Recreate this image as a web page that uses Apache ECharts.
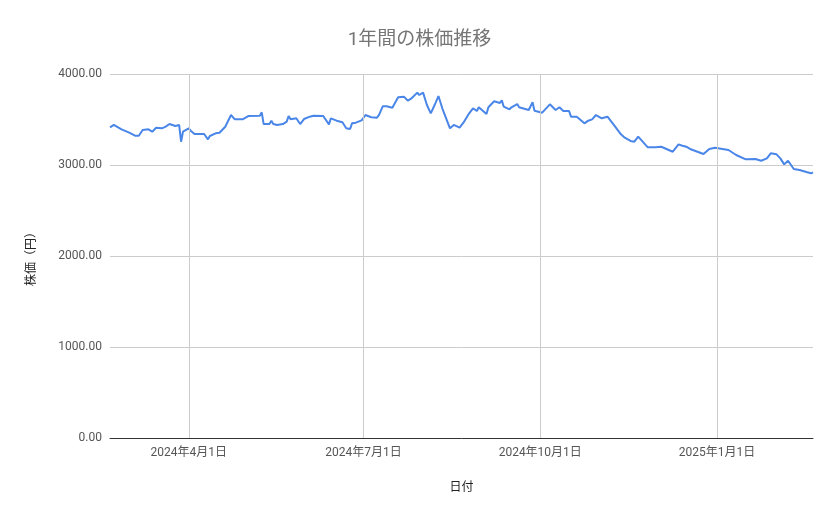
<!DOCTYPE html>
<html>
<head>
<meta charset="utf-8">
<script src="https://cdn.jsdelivr.net/npm/echarts@6/dist/echarts.min.js"></script>
<style>html,body{margin:0;padding:0;background:#fff}#c{width:839px;height:519px}</style>
</head>
<body>
<div id="c"></div>
<script>
const titleText = '1年間の株価推移';
const xName = '日付';
const yName = '株価（円）';
const dates = [
'2024-02-20','2024-02-22','2024-02-26','2024-02-27','2024-03-01','2024-03-04','2024-03-06','2024-03-08','2024-03-11','2024-03-12',
'2024-03-13','2024-03-15','2024-03-18','2024-03-20','2024-03-22','2024-03-25','2024-03-26','2024-03-27','2024-03-28','2024-03-29',
'2024-04-01','2024-04-02','2024-04-04','2024-04-05','2024-04-09','2024-04-10','2024-04-11','2024-04-12','2024-04-15','2024-04-17',
'2024-04-18','2024-04-20','2024-04-23','2024-04-25','2024-04-26','2024-04-29','2024-05-02','2024-05-08','2024-05-09','2024-05-10',
'2024-05-13','2024-05-14','2024-05-15','2024-05-16','2024-05-17','2024-05-20','2024-05-22','2024-05-23','2024-05-24','2024-05-27',
'2024-05-29','2024-05-31','2024-06-03','2024-06-05','2024-06-06','2024-06-10','2024-06-13','2024-06-14','2024-06-17','2024-06-18',
'2024-06-20','2024-06-22','2024-06-24','2024-06-25','2024-06-27','2024-06-30','2024-07-02','2024-07-05','2024-07-08','2024-07-09',
'2024-07-11','2024-07-13','2024-07-16','2024-07-19','2024-07-22','2024-07-23','2024-07-24','2024-07-26','2024-07-27','2024-07-29',
'2024-07-30','2024-08-01','2024-08-03','2024-08-05','2024-08-07','2024-08-09','2024-08-11','2024-08-15','2024-08-17','2024-08-20',
'2024-08-22','2024-08-23','2024-08-25','2024-08-27','2024-08-29','2024-08-30','2024-09-03','2024-09-04','2024-09-07','2024-09-10',
'2024-09-11','2024-09-12','2024-09-15','2024-09-16','2024-09-19','2024-09-20','2024-09-25','2024-09-27','2024-09-28','2024-10-02',
'2024-10-03','2024-10-06','2024-10-09','2024-10-11','2024-10-13','2024-10-16','2024-10-17','2024-10-18','2024-10-20','2024-10-24',
'2024-10-26','2024-10-28','2024-10-30','2024-11-02','2024-11-05','2024-11-07','2024-11-09','2024-11-12','2024-11-13','2024-11-14',
'2024-11-17','2024-11-19','2024-11-21','2024-11-22','2024-11-26','2024-11-30','2024-12-03','2024-12-09','2024-12-10','2024-12-12',
'2024-12-14','2024-12-16','2024-12-18','2024-12-25','2024-12-28','2024-12-31','2025-01-07','2025-01-08','2025-01-11','2025-01-16',
'2025-01-21','2025-01-22','2025-01-24','2025-01-27','2025-01-29','2025-01-30','2025-02-01','2025-02-03','2025-02-05','2025-02-07',
'2025-02-08','2025-02-10','2025-02-13','2025-02-17','2025-02-19','2025-02-20'
];
const prices = [
3413,3440,3392,3385,3355,3322,3322,3385,3392,3377,
3366,3410,3403,3421,3450,3429,3429,3440,3256,3366,
3403,3377,3341,3348,3341,3341,3282,3319,3348,3355,
3348,3421,3549,3502,3487,3502,3538,3542,3579,3450,
3450,3487,3450,3465,3440,3450,3476,3538,3502,3513,
3450,3505,3531,3542,3524,3538,3447,3513,3487,3469,
3469,3403,3396,3458,3465,3490,3549,3525,3520,3549,
3645,3645,3630,3744,3751,3762,3707,3733,3751,3795,
3769,3795,3659,3568,3659,3758,3623,3403,3440,3410,
3465,3458,3568,3623,3593,3634,3560,3634,3700,3681,
3710,3641,3612,3634,3670,3634,3604,3690,3597,3575,
3568,3667,3604,3634,3593,3593,3531,3538,3531,3458,
3487,3502,3549,3513,3531,3476,3421,3337,3337,3300,
3264,3256,3311,3293,3194,3194,3201,3146,3139,3227,
3212,3201,3176,3121,3176,3190,3165,3146,3110,3062,
3066,3073,3047,3073,3128,3121,3117,3073,3007,3047,
3036,2956,2945,2920,2909,2920
];
const xTicks = ['2024-04-01','2024-07-01','2024-10-01','2025-01-01'];
const xRange = ['2024-02-20','2025-02-20'];
const yTicks = [0,1000,2000,3000,4000];

const ts = s => Date.UTC(+s.slice(0,4), +s.slice(5,7)-1, +s.slice(8,10));
const seriesData = dates.map((d,i)=>[ts(d), prices[i]]);
const tickTimes = xTicks.map(ts);
const chart = echarts.init(document.getElementById('c'));
const font = 'Roboto, "Noto Sans CJK JP", sans-serif';
chart.setOption({
  animation:false,
  title:{text:titleText,left:'center',top:26,textStyle:{fontFamily:font,fontSize:19,fontWeight:'normal',color:'#757575'}},
  grid:{left:110,right:26,top:74,bottom:81},
  xAxis:{
    type:'value',
    min:ts(xRange[0]),max:ts(xRange[1]),
    name:xName,nameLocation:'middle',nameGap:44,
    nameTextStyle:{fontFamily:font,fontSize:12,color:'#222'},
    axisLine:{lineStyle:{color:'#333',width:1}},
    axisTick:{show:false,customValues:tickTimes},
    axisLabel:{customValues:tickTimes,margin:9,fontFamily:font,fontSize:12,color:'#555',
      formatter:v=>{const d=new Date(v);return d.getUTCFullYear()+'年'+(d.getUTCMonth()+1)+'月'+d.getUTCDate()+'日';}},
    splitLine:{show:false}
  },
  yAxis:{
    type:'value',min:yTicks[0],max:yTicks[yTicks.length-1],interval:1000,
    name:yName,nameLocation:'middle',nameGap:72,nameRotate:90,
    nameTextStyle:{fontFamily:font,fontSize:12,color:'#222'},
    axisLine:{show:false},axisTick:{show:false},
    axisLabel:{margin:8,fontFamily:font,fontSize:12,color:'#555',formatter:v=>v.toFixed(2)},
    splitLine:{lineStyle:{color:'#ccc',width:1}}
  },
  series:[
    {type:'line',data:[],z:1,silent:true,
      markLine:{silent:true,symbol:['none','none'],label:{show:false},animation:false,
        lineStyle:{color:'#ccc',width:1,type:'solid'},
        data:tickTimes.map(t=>({xAxis:t}))}},
    {type:'line',data:seriesData,z:3,showSymbol:false,symbol:'none',
      lineStyle:{color:'#4a86e8',width:2},itemStyle:{color:'#4a86e8'}}
  ]
});
</script>
</body>
</html>
